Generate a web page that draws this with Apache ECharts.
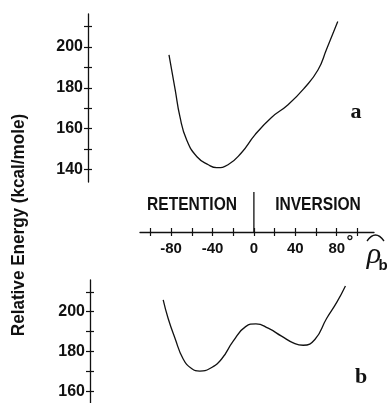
<!DOCTYPE html>
<html>
<head>
<meta charset="utf-8">
<script src="https://cdn.jsdelivr.net/npm/echarts@6/dist/echarts.min.js"></script>
<style>html,body{margin:0;padding:0;background:#fff;}#c{width:389px;height:403px;}</style>
</head>
<body>
<div id="c"></div>
<script>
// Curve a (upper panel)
var angleA = [-82, -76, -71.5, -65, -55, -44, -36, -25, -12, 1, 17, 33, 49, 62, 70, 81];
var energyA = [196, 179, 166, 154.6, 146.3, 142.4, 141, 142.4, 148.3, 157, 165.5, 171.7, 180, 188.8, 198.5, 212.3];
// Curve b (lower panel)
var angleB = [-87.6, -82.8, -76.3, -68.3, -60.2, -52.2, -42.5, -31.2, -20, -8, 2, 13.8, 26.7, 39.6, 47.6, 58.9, 70.2, 80, 88.4];
var energyB = [206, 196.6, 186.8, 176.2, 171.4, 170.1, 171.4, 176.2, 185.2, 192.5, 193.9, 191.7, 187.7, 183.9, 183.1, 186, 196.6, 204.7, 213];
// Axis ticks and labels
var xTicks = [-100, -80, -60, -40, -20, 0, 20, 40, 60, 80, 100];
var xLabels = [-80, -40, 0, 40, 80];
var yTicksA = [140, 150, 160, 170, 180, 190, 200, 210];
var yLabelsA = [140, 160, 180, 200];
var yTicksB = [160, 170, 180, 190, 200, 210];
var yLabelsB = [160, 180, 200];
var yTitle = 'Relative Energy (kcal/mole)';
var leftSide = 'RETENTION';
var rightSide = 'INVERSION';

function pairs(xs, ys) { return xs.map(function (x, i) { return [x, ys[i]]; }); }

var FONT = "'Liberation Sans', Arial, sans-serif";
var black = '#111';

function yAx(grid, min, max, ticks, labels, offset, inside) {
  return {
    type: 'value', gridIndex: grid, min: min, max: max, position: 'left', offset: offset,
    splitLine: { show: false },
    axisLine: { show: !inside, onZero: false, lineStyle: { color: black, width: 1.3 } },
    axisTick: { show: true, inside: inside, length: 4, customValues: ticks, lineStyle: { color: black, width: 1.2 } },
    axisLabel: inside ? { show: false } : { show: true, customValues: labels, color: black, fontFamily: FONT, fontWeight: 'bold', fontSize: 16, margin: 5 }
  };
}
function xAx(grid, show, inside) {
  return {
    type: 'value', gridIndex: grid, min: -110, max: 116, position: 'bottom', offset: 50, show: show,
    splitLine: { show: false },
    axisLine: { show: !inside, onZero: false, lineStyle: { color: black, width: 1.3 } },
    axisTick: { show: true, inside: inside, length: 4, customValues: xTicks, lineStyle: { color: black, width: 1.2 } },
    axisLabel: inside ? { show: false } : { show: true, customValues: xLabels, color: black, fontFamily: FONT, fontWeight: 'bold', fontSize: 15, margin: 9 }
  };
}

var chart = echarts.init(document.getElementById('c'), null, { renderer: 'canvas' });
var option = {
  animation: false,
  backgroundColor: '#fff',
  grid: [
    { left: 140, width: 234, top: 14, height: 168 },
    { left: 140, width: 234, top: 280, height: 127 }
  ],
  xAxis: [xAx(0, true, false), xAx(0, true, true), xAx(1, false, false)],
  yAxis: [
    yAx(0, 134, 216, yTicksA, yLabelsA, 52, false),
    yAx(0, 134, 216, yTicksA, yLabelsA, 52, true),
    yAx(1, 154, 216, yTicksB, yLabelsB, 50, false),
    yAx(1, 154, 216, yTicksB, yLabelsB, 50, true)
  ],
  series: [
    { type: 'line', xAxisIndex: 0, yAxisIndex: 0, data: pairs(angleA, energyA), smooth: 0.5, symbol: 'none',
      lineStyle: { color: black, width: 1.3 } },
    { type: 'line', xAxisIndex: 2, yAxisIndex: 2, data: pairs(angleB, energyB), smooth: 0.5, symbol: 'none',
      lineStyle: { color: black, width: 1.3 } }
  ]
};
chart.setOption(option);

var x0 = chart.convertToPixel({ xAxisIndex: 0 }, 0);
var TF = "bold 19px 'Liberation Sans', sans-serif";
chart.setOption({
  graphic: [
    { type: 'text', x: 19, y: 225, rotation: Math.PI / 2, scaleX: 0.95,
      style: { text: yTitle, fill: black, font: "bold 18px 'Liberation Sans', sans-serif", align: 'center', verticalAlign: 'middle' } },
    { type: 'text', x: 192, y: 205, scaleX: 0.82,
      style: { text: leftSide, fill: black, font: TF, align: 'center', verticalAlign: 'middle' } },
    { type: 'text', x: 318, y: 205, scaleX: 0.82,
      style: { text: rightSide, fill: black, font: TF, align: 'center', verticalAlign: 'middle' } },
    { type: 'line', shape: { x1: x0, y1: 192, x2: x0, y2: 232 }, style: { stroke: black, lineWidth: 1.3 } },
    { type: 'text', x: 350, y: 242,
      style: { text: '°', fill: black, font: "bold 17px 'Liberation Sans', sans-serif", align: 'center', verticalAlign: 'middle' } },
    { type: 'text', x: 374, y: 255,
      style: { text: 'ρ', fill: black, font: "italic 30px 'Liberation Serif', serif", align: 'center', verticalAlign: 'middle' } },
    { type: 'bezierCurve', shape: { x1: 367, y1: 241, cpx1: 375.5, cpy1: 229, x2: 384, y2: 241 },
      style: { stroke: black, lineWidth: 1.3, fill: null } },
    { type: 'text', x: 383, y: 266,
      style: { text: 'b', fill: black, font: "bold 15px 'Liberation Sans', sans-serif", align: 'center', verticalAlign: 'middle' } },
    { type: 'text', x: 356, y: 112,
      style: { text: 'a', fill: black, font: "bold 22px 'Liberation Serif', serif", align: 'center', verticalAlign: 'middle' } },
    { type: 'text', x: 361, y: 377,
      style: { text: 'b', fill: black, font: "bold 22px 'Liberation Serif', serif", align: 'center', verticalAlign: 'middle' } }
  ]
});
</script>
</body>
</html>
